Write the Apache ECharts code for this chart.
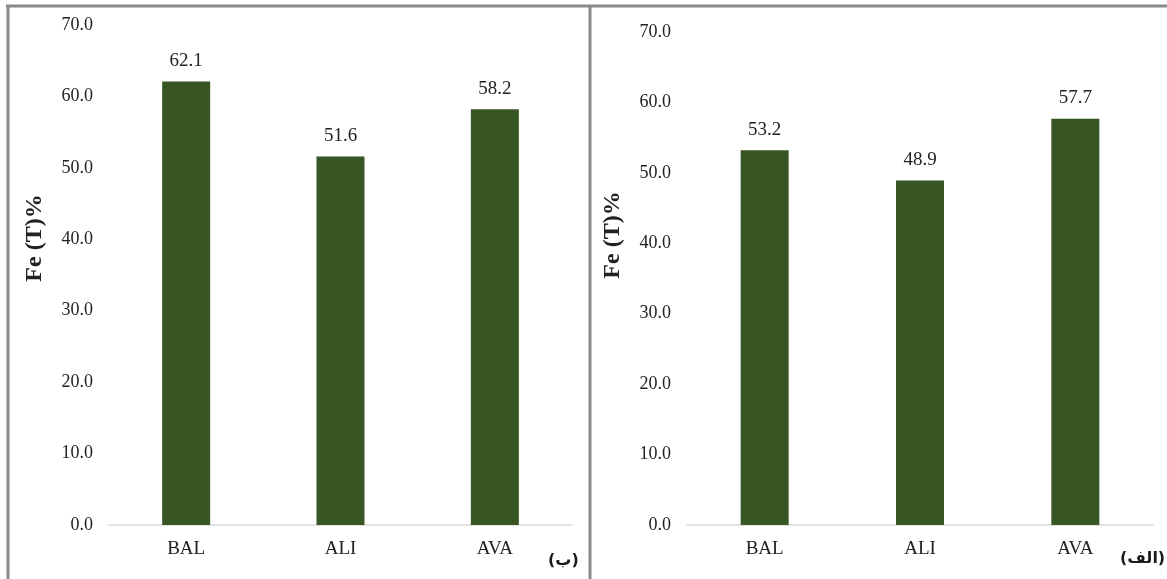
<!DOCTYPE html>
<html>
<head>
<meta charset="utf-8">
<style>
  html, body { margin: 0; padding: 0; background: #fff; }
  #chart { width: 1167px; height: 579px; }
</style>
<script src="https://cdn.jsdelivr.net/npm/echarts@6/dist/echarts.min.js"></script>
</head>
<body>
<div id="chart"></div>
<script>
// Sample sites and total iron content (%) for the two panels
const categories = ['BAL', 'ALI', 'AVA'];
const valuesB = [62.1, 51.6, 58.2];    // panel (ب), left
const valuesAlef = [53.2, 48.9, 57.7]; // panel (الف), right
const yTicks = { min: 0, max: 70, interval: 10 };
const axisTitle = 'Fe (T)%';
const panelTags = ['(ب)', '(الف)'];

const SERIF = '"Liberation Serif", "Times New Roman", serif';
const BAR = '#375623';
const FRAME = '#8a8a8a';
const TEXT = '#222222';

const chart = echarts.init(document.getElementById('chart'), null, { renderer: 'canvas' });

function xAxisFor(gridIndex) {
  return {
    type: 'category',
    gridIndex,
    data: categories,
    axisLine: { lineStyle: { color: '#d9d9d9', width: 1.5 } },
    axisTick: { show: false },
    axisLabel: { fontFamily: SERIF, fontSize: 19, color: TEXT, margin: 15 }
  };
}

function yAxisFor(gridIndex) {
  return {
    type: 'value',
    gridIndex,
    min: yTicks.min,
    max: yTicks.max,
    interval: yTicks.interval,
    axisLine: { show: false },
    axisTick: { show: false },
    splitLine: { show: false },
    axisLabel: {
      fontFamily: SERIF, fontSize: 18, color: TEXT, margin: 16,
      formatter: v => v.toFixed(1)
    }
  };
}

function barSeries(idx, data) {
  return {
    type: 'bar',
    xAxisIndex: idx,
    yAxisIndex: idx,
    data,
    barWidth: 48,
    itemStyle: { color: BAR },
    label: {
      show: true,
      position: 'top',
      distance: 11,
      fontFamily: SERIF,
      fontSize: 19,
      color: TEXT,
      formatter: p => p.value.toFixed(1)
    }
  };
}

// rotated y-axis title centred at (cx, cy)
function yTitle(cx, cy) {
  return {
    type: 'text',
    x: cx, y: cy,
    rotation: Math.PI / 2,
    style: {
      text: axisTitle,
      font: 'bold 24px ' + SERIF,
      fill: TEXT,
      align: 'center',
      verticalAlign: 'middle'
    }
  };
}

chart.setOption({
  animation: false,
  grid: [
    { left: 109, top: 25, width: 463, height: 500 },
    { left: 687, top: 32, width: 466, height: 493 }
  ],
  xAxis: [xAxisFor(0), xAxisFor(1)],
  yAxis: [yAxisFor(0), yAxisFor(1)],
  series: [barSeries(0, valuesB), barSeries(1, valuesAlef)],
  graphic: [
    // panel frames
    { type: 'line', shape: { x1: 6, y1: 6, x2: 1167, y2: 6 }, style: { stroke: FRAME, lineWidth: 3 } },
    { type: 'line', shape: { x1: 8, y1: 5, x2: 8, y2: 579 }, style: { stroke: FRAME, lineWidth: 3 } },
    { type: 'line', shape: { x1: 590, y1: 5, x2: 590, y2: 579 }, style: { stroke: FRAME, lineWidth: 3 } },
    // axis titles
    yTitle(35, 238),
    yTitle(613, 235),
    // panel tags
    { type: 'text', left: 548, top: 553,
      style: { text: panelTags[0], font: 'bold 16px "DejaVu Sans", sans-serif', fill: '#1a1a1a' } },
    { type: 'text', left: 1120, top: 551,
      style: { text: panelTags[1], font: 'bold 16px "DejaVu Sans", sans-serif', fill: '#1a1a1a' } }
  ]
});
</script>
</body>
</html>
